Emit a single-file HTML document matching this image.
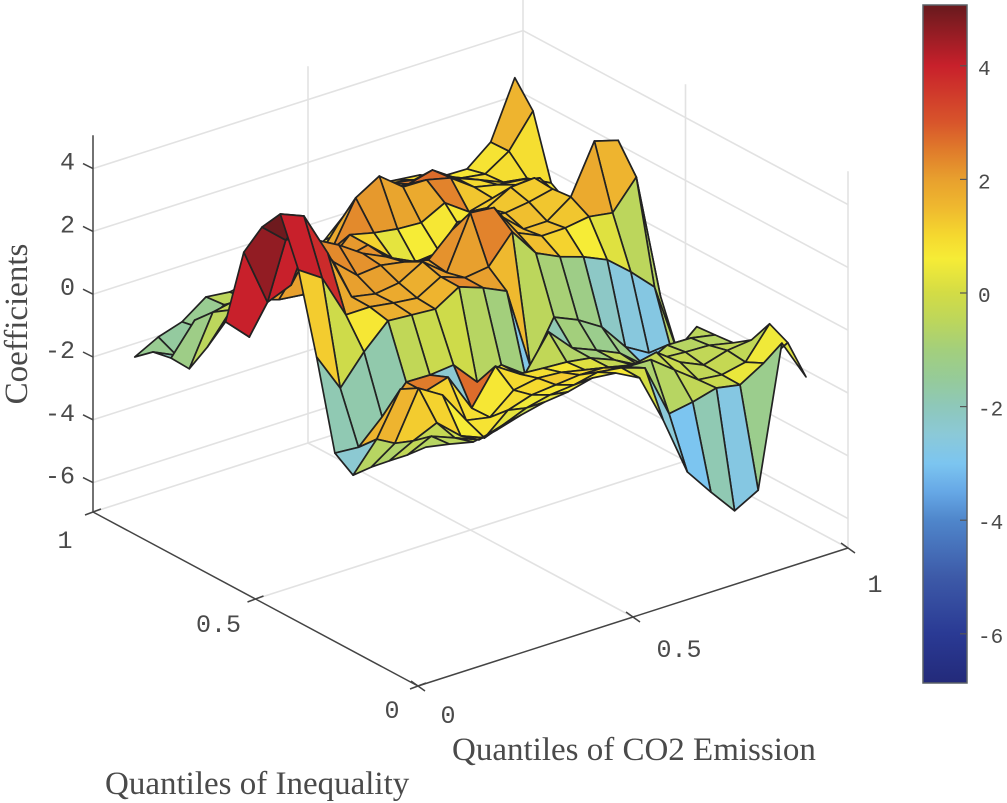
<!DOCTYPE html>
<html>
<head>
<meta charset="utf-8">
<title>Coefficient surface</title>
<style>
html,body{margin:0;padding:0;background:#fff;width:1007px;height:803px;overflow:hidden}
svg{display:block}
.tick{font-family:"Liberation Mono",monospace;font-size:25px;fill:#4a4a4a}
.cbtick{font-family:"Liberation Mono",monospace;font-size:21px;fill:#4a4a4a}
.title{font-family:"Liberation Serif",serif;font-size:33px;fill:#4a4a4a}
</style>
</head>
<body>
<svg id="chart" width="1007" height="803" viewBox="0 0 1007 803" xmlns="http://www.w3.org/2000/svg">
<defs><linearGradient id="cbGrad" x1="0" y1="0" x2="0" y2="1"></linearGradient></defs>
<g id="grid"></g>
<g id="axes"></g>
<g id="surface"></g>
<g id="labels"></g>
<text class="title" x="452" y="760">Quantiles of CO2 Emission</text>
<text class="title" x="105" y="794">Quantiles of Inequality</text>
<text class="title" transform="translate(27,324) rotate(-90)" text-anchor="middle">Coefficients</text>
<g id="colorbar"></g>
</svg>
<script>
const quantilesCO2=[.050,.105,.160,.216,.271,.326,.381,.437,.492,.547,.602,.658,.713,.768,.823,.878,.934];
const quantilesInequality=[.042,.098,.154,.210,.266,.322,.378,.434,.490,.546,.602,.658,.714,.770,.826,.882,.938];
const coefficientRows=[
[.11,-.04,-.22,-.08,.14,.31,.39,.58,.49,.09,-1.5,-3.4,-4.29,-5.13,-4.72,-.28,-1.61],
[-.45,-.1,-.4,-.71,-.49,-.19,-.02,.05,.21,.1,-.15,-1.86,-1.73,-1.53,-1.68,-1.23,-.83],
[-.95,-.56,-.23,-.9,-1.21,-.57,-.33,-.26,-.19,-.21,-.43,-.45,-1.02,-1.58,-1.67,-1.51,-.54],
[-1.46,-.95,.56,.09,-.96,-1.11,-.49,-.36,-.42,-.59,-.75,-.93,-.77,-1.33,-1.67,-1.45,-1.37],
[-2.03,-1.13,.22,-.12,.1,-1.13,-.04,-.54,-.6,-.65,-.77,-1.08,-1.49,-1.51,-1.57,-1.6,-1.77],
[-1.64,-1.7,-.98,-.12,-.14,-.07,-.86,-.56,-1.1,0,-.76,-1.08,-1.42,-2.04,-1.66,-1.68,-1.83],
[1.11,-.13,.78,1.52,1.46,1.4,1.86,1.58,1.23,-1.43,-.09,-.43,-.9,-1.78,-2.22,-2.54,-1.88],
[3.57,3.07,1.65,1.65,1.53,1.44,1.87,1.59,1.69,2.56,1.64,1.27,1.02,.68,.05,-.68,-3.09],
[5.04,4.73,3.31,1.66,1.51,1.61,2.04,1.44,3.1,3.02,1.97,1.62,1.63,1.74,1.62,2.51,-1.52],
[4.31,3.65,3.57,2.46,1.79,1.86,1.72,1.53,2.24,2.15,2.22,1.53,1.53,2.06,3.59,3.37,.74],
[3.2,1.36,1.66,2.85,2.44,1.93,1.57,.96,1.1,1.94,1.82,1.73,1.83,2,1.24,.99,1.07],
[.67,-.06,1.52,1.58,1.49,1.46,1.64,.97,.6,.67,1.06,1.58,1.99,2.04,1.25,.68,.6],
[-.44,.49,.57,.32,.23,.93,1.65,1.46,1.34,1.29,1.68,1.14,1.33,1.51,1.48,.53,.13],
[-1.45,.11,.26,.01,-.08,.14,.86,2.26,2.71,2.12,2.1,1.91,1.37,1.2,1.11,.7,-.18],
[-1.42,-.46,-.64,-.31,-.4,-.34,.06,1.08,1.47,1.71,1.65,1.85,1.34,1.04,.72,.6,.2],
[-1.54,-1.89,-1.27,-.78,-.87,-.65,-.57,-.18,.3,.92,1.37,1.22,1.03,.79,.67,1.15,2.18],
[-2.01,-1.62,-1.38,-.84,-.93,-.8,-.72,-.71,-.26,.45,1,.91,.82,.54,.52,1.13,2.93]
];
const facetValueRows=[
[-.6,-.5,-.3,-.3,-.2,.3,.5,.6,.7,0,-2.5,-3,-1.9,-2.7,-1.3,.2],
[-.4,-.3,-.1,0,.3,.5,.7,.9,1,.5,-.8,-.6,-.4,-.2,.4,.5],
[-.7,1.2,1.1,.6,.8,.9,1,1.2,1,.3,-.5,-.3,-.2,-.4,-.3,-.4],
[-.6,1.6,1.7,1.1,.9,.7,1,.9,.7,.2,-.3,-.6,-.5,-.3,-.4,-.4],
[-2.4,1.6,2,2.5,-2.4,2.7,.9,.8,-.4,-.7,-1,-.4,-.2,-.4,-.6,-.6],
[-1.9,-1.8,-1.8,-.4,-.2,-.1,-.6,-1,-2.8,-1.9,-1,-1.3,-1.2,-2.9,-.6,-.5],
[1.2,-.1,.7,1.7,1.7,1.6,2.3,2,1.5,-.5,-.9,-1.2,-2.2,-2.6,-2.7,-.6],
[4,3.8,1.8,1.9,1.8,1.7,2,2,2.4,1.9,1.4,1.1,.6,.2,-.5,-.6],
[5,4,2,2,2,1.9,1.9,2.2,2.3,1.7,1.5,1.4,1.3,1.8,1.6,1],
[4.6,4,2,2.3,2.2,2,1.8,1.8,.7,1.8,1.5,1.4,1.3,2,1.5,1],
[4,1,1.9,2.1,2.2,2.2,1.9,2,.8,1.5,1.3,1.3,1.2,1,1,1],
[.6,.3,2,2,2,2.1,1.1,.3,.6,.7,.7,1.2,1.2,1.1,1,.8],
[-.5,-.3,0,1,1.5,2,2.3,2.1,1.9,1.8,2.4,1.3,1,1.1,1,.8],
[-1.2,-.5,-.3,-.3,0,.5,1.8,2,2,2.6,2.7,1.5,1,1,.8,.7],
[-2,-1.3,-.9,-.5,-.3,-.2,1,1.3,1.8,2,2.5,1.4,.9,1,.9,.9],
[-1.4,-1.6,-1.4,-.5,-.4,0,.3,.7,1,1.4,1.4,1,.8,.7,.8,1.6]
];
const zTickValues=[-6,-4,-2,0,2,4];
const floorTickValues=[0,0.5,1];
const colorbarTickValues=[-6,-4,-2,0,2,4];
const colormapValues=[-7,-6,-5,-4,-3.5,-3,-2.5,-2,-1.5,-1,-.5,0,.6,1,1.5,2,2.5,3,4,5];
const colormapColours=["#232a7a","#2a3a94","#3d5aa8","#4f86cb","#66a8e6","#7cc5f0","#8bc9d8","#8ec8ba","#96cb98","#a3cf7c","#bcd65c","#d3dc45","#f6ec36","#f5d92f","#efb92f","#e8a02e","#e07c2b","#d8552b","#c8202b","#6e1a1e"];

const NS="http://www.w3.org/2000/svg";
function X(u,v){return 418+430*u-325*v;}
function Y(u,v,z){return 686-138*u-174*v-31.4*(z+7);}
function make(tag,parent,attrs){
  const el=document.createElementNS(NS,tag);
  for(const k in attrs)el.setAttribute(k,attrs[k]);
  parent.appendChild(el);
  return el;
}
function hex(c){return [1,3,5].map(function(p){return parseInt(c.substr(p,2),16);});}
function colourOf(val){
  const n=colormapValues.length;
  if(val<=colormapValues[0])return colormapColours[0];
  if(val>=colormapValues[n-1])return colormapColours[n-1];
  for(let k=1;k<n;k++){
    if(val<=colormapValues[k]){
      const t=(val-colormapValues[k-1])/(colormapValues[k]-colormapValues[k-1]);
      const a=hex(colormapColours[k-1]),b=hex(colormapColours[k]);
      return "rgb("+a.map(function(x,q){return Math.round(x+(b[q]-x)*t);}).join(",")+")";
    }
  }
}
const gridG=document.getElementById("grid");
function gridLine(x1,y1,x2,y2){
  const l=make("line",gridG,{x1:x1,y1:y1,x2:x2,y2:y2,stroke:"#e2e2e2","stroke-width":1.6});
  
  
}
const zMin=-7,zMax=5,zLineShift=2;
zTickValues.forEach(function(z){
  gridLine(X(0,1),Y(0,1,z)+zLineShift,X(1,1),Y(1,1,z)+zLineShift);
  gridLine(X(1,1),Y(1,1,z)+zLineShift,X(1,0),Y(1,0,z)+zLineShift);
});
[[.5,0,.5,1],[0,.5,1,.5],[0,1,1,1],[1,1,1,0]].forEach(function(s){
  gridLine(X(s[0],s[1]),Y(s[0],s[1],zMin),X(s[2],s[3]),Y(s[2],s[3],zMin));
});
[[.5,1],[1,1],[1,.5],[1,0]].forEach(function(p){
  gridLine(X(p[0],p[1]),Y(p[0],p[1],zMin),X(p[0],p[1]),Y(p[0],p[1],zMax));
});
const axesG=document.getElementById("axes");
function axisLine(name,x1,y1,x2,y2){
  const l=make("line",axesG,{x1:x1,y1:y1,x2:x2,y2:y2,stroke:"#444","stroke-width":1.5});
  
  
}
axisLine("z-axis-line",X(0,1),Y(0,1,zMin),X(0,1),Y(0,1,zMax));
axisLine("inequality-axis-line",X(0,1),Y(0,1,zMin),X(0,0),Y(0,0,zMin));
axisLine("co2-axis-line",X(0,0),Y(0,0,zMin),X(1,0),Y(1,0,zMin));
const labelsG=document.getElementById("labels");
function label(cls,name,x,y,txt,anchor,parent){
  const t=make("text",parent||labelsG,{class:cls,x:x,y:y,"text-anchor":anchor});
  t.textContent=txt;
  
  
}
zTickValues.forEach(function(z){
  const px=X(0,1),py=Y(0,1,z)+zLineShift;
  axisLine("z-axis-tick",px,py,px-10,py-5);
  label("tick","z-tick-label",75,py+1,String(z),"end");
});
floorTickValues.forEach(function(q){
  const ax=X(q,0),ay=Y(q,0,zMin);
  axisLine("co2-axis-tick",ax-7,ay-5,ax+7,ay+5);
  label("tick","co2-tick-label",ax+(q==0?30:q==1?27:46),ay+(q==1?44:q==0?37:40),String(q),"middle");
  const bx=X(0,q),by=Y(0,q,zMin);
  axisLine("inequality-axis-tick",bx-8,by+3,bx+8,by-3);
  label("tick","inequality-tick-label",bx+(q==0?-26:q==1?-28:-37),by+(q==1?36:q==0?32:33),String(q),"middle");
});
const surf=document.getElementById("surface");
const nU=quantilesCO2.length,nV=quantilesInequality.length;
function pt(i,j){
  const u=quantilesCO2[i],v=quantilesInequality[j];
  const lift=1.4+2.5*(u-.05)+.9*(v-.042);
  return X(u,v).toFixed(1)+","+(Y(u,v,coefficientRows[j][i])-lift).toFixed(1);
}
for(let j=nV-2;j>=0;j--){
  for(let i=nU-2;i>=0;i--){
    const p=make("polygon",surf,{
      points:[pt(i,j),pt(i+1,j),pt(i+1,j+1),pt(i,j+1)].join(" "),
      fill:colourOf(facetValueRows[j][i]),
      stroke:"#222","stroke-width":1.7,"stroke-linejoin":"round"
    });
    
    
  }
}
const cb=document.getElementById("colorbar");
const cbTop=5,cbBottom=683,cbX=923,cbW=44;
function cbY(v){return 293-56.8*v;}
const grad=document.getElementById("cbGrad");
const cbHigh=(293-cbTop)/56.8,cbLow=(293-cbBottom)/56.8;
colormapValues.forEach(function(v,k){
  make("stop",grad,{offset:Math.min(1,Math.max(0,(cbHigh-v)/(cbHigh-cbLow))),"stop-color":colormapColours[k]});
});
Array.prototype.slice.call(grad.children).reverse().forEach(function(s){grad.appendChild(s);});
const bar=make("rect",cb,{x:cbX,y:cbTop,width:cbW,height:cbBottom-cbTop,fill:"url(#cbGrad)",stroke:"#5a6066","stroke-width":1.5});


colorbarTickValues.forEach(function(v){
  const t=make("line",cb,{x1:cbX+cbW-7,y1:cbY(v),x2:cbX+cbW,y2:cbY(v),stroke:"#555","stroke-width":1.2});
  
  
  label("cbtick","colorbar-tick-label",978,cbY(v)+9,String(v),"start",cb);
});
</script>
</body>
</html>
